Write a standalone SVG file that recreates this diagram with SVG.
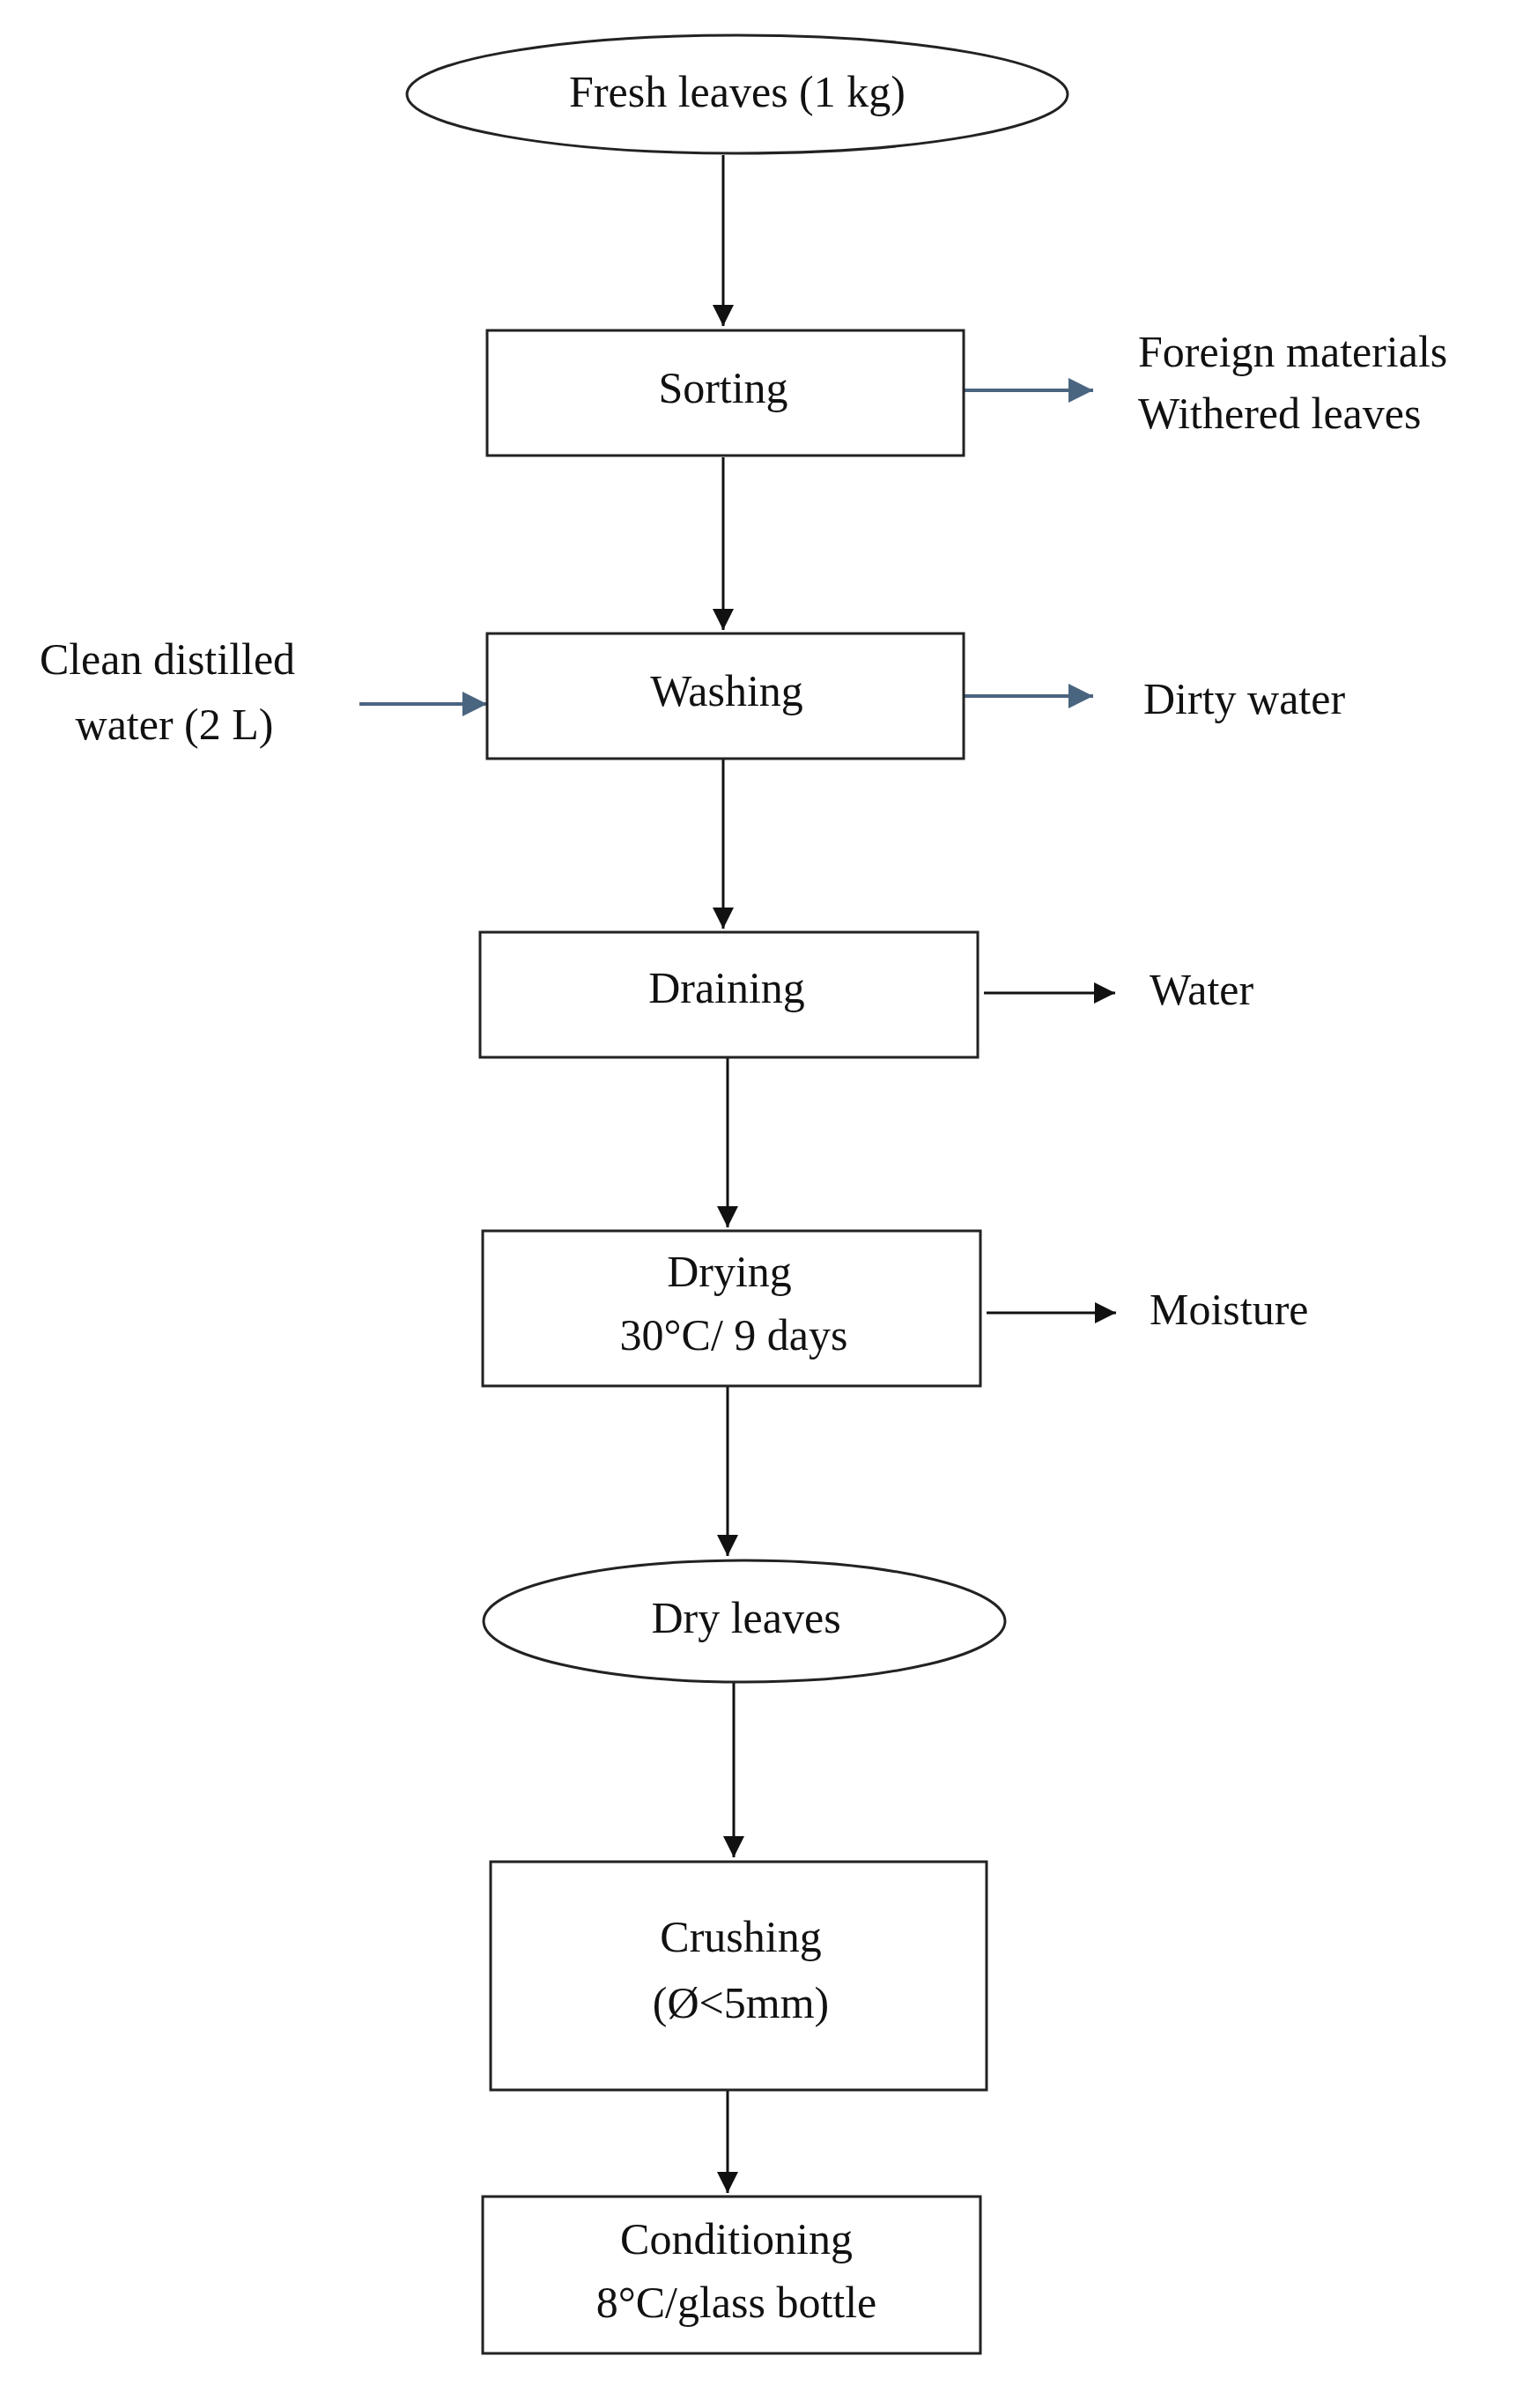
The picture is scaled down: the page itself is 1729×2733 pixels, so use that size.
<svg xmlns="http://www.w3.org/2000/svg" width="1729" height="2733" viewBox="0 0 1729 2733">
<style>
.n{fill:#fff;stroke:#222;stroke-width:3}
text{font-family:"Liberation Serif","Times New Roman",serif;font-size:50px;fill:#111;text-anchor:middle;dominant-baseline:middle}
.l{text-anchor:start}
.k{stroke:#111;stroke-width:3;fill:none;marker-end:url(#ak)}
.b{stroke:#4a6580;stroke-width:4;fill:none;marker-end:url(#ab)}
</style>
<defs>
<marker id="ak" viewBox="0 0 10 10" refX="10" refY="5" markerWidth="8" markerHeight="8" markerUnits="strokeWidth" orient="auto"><path d="M0,0L10,5L0,10z" fill="#111"/></marker>
<marker id="ab" viewBox="0 0 10 10" refX="10" refY="5" markerWidth="7" markerHeight="7" markerUnits="strokeWidth" orient="auto"><path d="M0,0L10,5L0,10z" fill="#4a6580"/></marker>
</defs>
<rect width="1729" height="2733" fill="#fff"/>
<g id="connectors">
<line class="k" x1="821" y1="176" x2="821" y2="370"/>
<line class="b" x1="1094" y1="443" x2="1241" y2="443"/>
<line class="k" x1="821" y1="519" x2="821" y2="715"/>
<line class="b" x1="408" y1="799" x2="553" y2="799"/>
<line class="b" x1="1094" y1="790" x2="1241" y2="790"/>
<line class="k" x1="821" y1="861" x2="821" y2="1054"/>
<line class="k" x1="1117" y1="1127" x2="1266" y2="1127"/>
<line class="k" x1="826" y1="1200" x2="826" y2="1393"/>
<line class="k" x1="1120" y1="1490" x2="1267" y2="1490"/>
<line class="k" x1="826" y1="1573" x2="826" y2="1766"/>
<line class="k" x1="833" y1="1909" x2="833" y2="2108"/>
<line class="k" x1="826" y1="2372" x2="826" y2="2489"/>
</g>
<g id="fresh"><ellipse class="n" cx="837" cy="107" rx="375" ry="67"/><text x="837" y="110">Fresh leaves (1 kg)</text></g>
<g id="sorting"><rect class="n" x="553" y="375" width="541" height="142"/><text x="821" y="446">Sorting</text></g>
<g id="foreign"><text class="l" x="1292" y="405">Foreign materials</text><text class="l" x="1292" y="475">Withered leaves</text></g>
<g id="washing"><rect class="n" x="553" y="719" width="541" height="142"/><text x="825" y="790">Washing</text></g>
<g id="clean"><text x="190" y="754">Clean distilled</text><text x="198" y="828">water (2 L)</text></g>
<g id="dirty"><text class="l" x="1298" y="799">Dirty water</text></g>
<g id="draining"><rect class="n" x="545" y="1058" width="565" height="142"/><text x="825" y="1127">Draining</text></g>
<g id="water"><text class="l" x="1305" y="1129">Water</text></g>
<g id="drying"><rect class="n" x="548" y="1397" width="565" height="176"/><text x="828" y="1449">Drying</text><text x="833" y="1521">30°C/ 9 days</text></g>
<g id="moisture"><text class="l" x="1305" y="1492">Moisture</text></g>
<g id="dry"><ellipse class="n" cx="845" cy="1840" rx="296" ry="69"/><text x="847" y="1842">Dry leaves</text></g>
<g id="crushing"><rect class="n" x="557" y="2113" width="563" height="259"/><text x="841" y="2204">Crushing</text><text x="841" y="2279">(Ø&lt;5mm)</text></g>
<g id="conditioning"><rect class="n" x="548" y="2493" width="565" height="178"/><text x="836" y="2547">Conditioning</text><text x="836" y="2619">8°C/glass bottle</text></g>
</svg>
